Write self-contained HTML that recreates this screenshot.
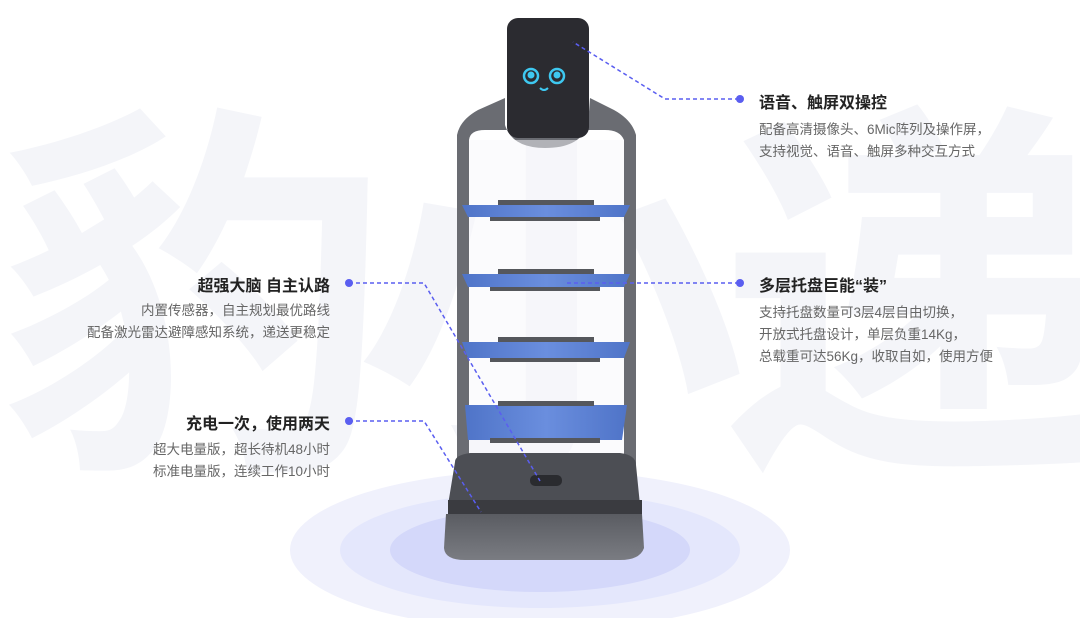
<!DOCTYPE html>
<html><head><meta charset="utf-8"><style>
html,body{margin:0;padding:0;background:#fff;}
#c{position:relative;width:1080px;height:618px;overflow:hidden;background:#fff;font-family:"Liberation Sans","Noto Sans CJK SC",sans-serif;}
.wm{position:absolute;top:75px;font-size:390px;font-weight:700;color:#f4f5f9;line-height:1;font-family:"Noto Sans CJK SC",sans-serif;}
.t{position:absolute;font-size:16px;font-weight:bold;color:#222;white-space:nowrap;}
.d{position:absolute;font-size:13.5px;color:#666;line-height:22px;white-space:nowrap;}
.r{text-align:right;}
</style></head><body><div id="c">
<div class="wm" style="left:0px">豹</div>
<div class="wm" style="left:355px">小</div>
<div class="wm" style="left:720px">递</div>
<svg width="1080" height="618" style="position:absolute;left:0;top:0">
<defs>
<linearGradient id="tray" x1="0" y1="0" x2="1" y2="0">
<stop offset="0" stop-color="#4f74c8"/><stop offset="0.5" stop-color="#6a8ede"/><stop offset="1" stop-color="#4f74c8"/>
</linearGradient>
<linearGradient id="base" x1="0" y1="0" x2="0" y2="1">
<stop offset="0" stop-color="#5a5c62"/><stop offset="1" stop-color="#7a7c82"/>
</linearGradient>
</defs>
<ellipse cx="540" cy="550" rx="250" ry="80" fill="#f0f1fc"/>
<ellipse cx="540" cy="550" rx="200" ry="58" fill="#e4e7fc"/>
<ellipse cx="540" cy="550" rx="150" ry="42" fill="#d4d8fa"/>
<!-- frame -->
<path d="M457 470 L457 135 Q460 120 478 110 L505 98 L505 125 Q512 148 545 148 Q580 148 588 125 L590 98 L614 110 Q632 120 636 135 L636 470 L624 470 L624 140 Q620 130 605 130 L485 130 Q470 130 469 140 L469 470 Z" fill="#6a6c72"/>
<rect x="469" y="140" width="155" height="330" fill="#f7f8fb" opacity="0.5"/>
<rect x="507" y="18" width="82" height="120" rx="11" fill="#2b2b30"/>
<circle cx="531" cy="76" r="7" fill="none" stroke="#3ec8f0" stroke-width="2.5"/><circle cx="531" cy="75" r="3.5" fill="#3ec8f0"/>
<circle cx="557" cy="76" r="7" fill="none" stroke="#3ec8f0" stroke-width="2.5"/><circle cx="557" cy="75" r="3.5" fill="#3ec8f0"/>
<path d="M540 88 Q544 92 548 88" stroke="#3ec8f0" stroke-width="2" fill="none"/>
<!-- trays -->
<g fill="url(#tray)">
<path d="M462 205 L630 205 L624 217 L468 217 Z"/>
<path d="M462 274 L630 274 L624 287 L468 287 Z"/>
<path d="M462 342 L630 342 L624 358 L468 358 Z"/>
<path d="M465 405 L627 405 L622 440 L468 440 Z"/>
</g>
<g fill="#55575c">
<rect x="498" y="200" width="96" height="5"/><rect x="490" y="217" width="110" height="4"/>
<rect x="498" y="269" width="96" height="5"/><rect x="490" y="287" width="110" height="4"/>
<rect x="498" y="337" width="96" height="5"/><rect x="490" y="358" width="110" height="4"/>
<rect x="498" y="401" width="96" height="5"/><rect x="490" y="438" width="110" height="5"/>
</g>
<!-- base -->
<path d="M455 462 Q455 455 470 453 L620 453 Q636 455 636 465 L640 505 L448 505 Z" fill="#4c4e54"/>
<rect x="448" y="500" width="194" height="14" fill="#3a3b40"/>
<path d="M446 514 L642 514 L644 548 Q640 560 620 560 L465 560 Q445 560 444 548 Z" fill="url(#base)"/>
<rect x="530" y="475" width="32" height="11" rx="5" fill="#2a2b2f"/>
<!-- connectors -->
<g stroke="#5a5ef0" stroke-width="1.5" stroke-dasharray="4 3" fill="none">
<path d="M739 99 L665 99 L573 42"/>
<path d="M739 283 L565 283"/>
<path d="M349 283 L424 283 L540 481"/>
<path d="M349 421 L424 421 L481 512"/>
</g>
<g fill="#5a5ef0"><circle cx="740" cy="99" r="4"/><circle cx="740" cy="283" r="4"/><circle cx="349" cy="283" r="4"/><circle cx="349" cy="421" r="4"/></g>
</svg>
<div class="t" style="left:759px;top:89px">语音、触屏双操控</div>
<div class="d" style="left:759px;top:119px">配备高清摄像头、6Mic阵列及操作屏，<br>支持视觉、语音、触屏多种交互方式</div>
<div class="t" style="left:759px;top:272px">多层托盘巨能“装”</div>
<div class="d" style="left:759px;top:302px">支持托盘数量可3层4层自由切换，<br>开放式托盘设计，单层负重14Kg，<br>总载重可达56Kg，收取自如，使用方便</div>
<div class="t r" style="right:750px;top:272px">超强大脑 自主认路</div>
<div class="d r" style="right:750px;top:300px">内置传感器，自主规划最优路线<br>配备激光雷达避障感知系统，递送更稳定</div>
<div class="t r" style="right:750px;top:410px">充电一次，使用两天</div>
<div class="d r" style="right:750px;top:439px">超大电量版，超长待机48小时<br>标准电量版，连续工作10小时</div>
</div></body></html>
